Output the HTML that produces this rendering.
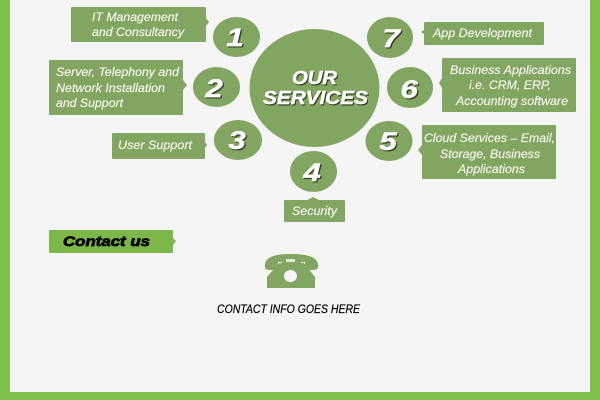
<!DOCTYPE html>
<html><head><meta charset="utf-8"><style>
html,body{margin:0;padding:0;width:600px;height:400px;overflow:hidden;background:#f5f5f5}
svg{display:block}
text{font-family:"Liberation Sans",sans-serif;font-style:italic}
.l{font-size:12px;fill:#f1f5ea;stroke:#f1f5ea;stroke-width:.2}
.n{font-size:25px;font-weight:bold;fill:#fff;text-anchor:middle;stroke:#fff;stroke-width:.4;filter:url(#sh)}
.h{font-size:18px;font-weight:bold;fill:#fff;stroke:#fff;stroke-width:.4;filter:url(#sh)}
</style></head><body>
<svg width="600" height="400" viewBox="0 0 600 400" xmlns="http://www.w3.org/2000/svg">
<defs>
<filter id="sh" x="-20%" y="-20%" width="140%" height="140%"><feDropShadow dx="1" dy="1.2" stdDeviation=".3" flood-color="#2d3a22"/></filter>
</defs>
<rect width="600" height="400" fill="#f5f5f5"/>
<path d="M0 0H10V392H590V0H600V400H0Z" fill="#7fc04a"/>
<g fill="#82a661">
<ellipse cx="314.5" cy="88" rx="65" ry="59"/>
<ellipse cx="236.5" cy="37" rx="23.5" ry="20"/>
<ellipse cx="216.5" cy="87" rx="23.5" ry="20"/>
<ellipse cx="238" cy="140" rx="24" ry="20"/>
<ellipse cx="313.5" cy="171.5" rx="23.5" ry="20.5"/>
<ellipse cx="389" cy="141" rx="23.5" ry="20"/>
<ellipse cx="410" cy="87.5" rx="23" ry="20.5"/>
<ellipse cx="390" cy="37.5" rx="23" ry="20.5"/>
<path d="M72 7H205Q206 7 206 8V18L209 22L206 26V41Q206 42 205 42H72Q71 42 71 41V8Q71 7 72 7Z"/>
<path d="M50 60H182Q183 60 183 61V80L187 85L183 90V114Q183 115 182 115H50Q49 115 49 114V61Q49 60 50 60Z"/>
<path d="M113 133H204Q205 133 205 134V142L207 145L205 148V158Q205 159 204 159H113Q112 159 112 158V134Q112 133 113 133Z"/>
<path d="M425 22H543Q544 22 544 23V44Q544 45 543 45H425Q424 45 424 44V34L421 32L424 30V23Q424 22 425 22Z"/>
<path d="M443 58H575Q576 58 576 59V111Q576 112 575 112H443Q442 112 442 111V88L439 83L442 78V59Q442 58 443 58Z"/>
<path d="M423 125H555Q556 125 556 126V178Q556 179 555 179H423Q422 179 422 178V155L418 150L422 145V126Q422 125 423 125Z"/>
<path d="M285 200H307L313 197L319 200H344Q345 200 345 201V221Q345 222 344 222H285Q284 222 284 221V201Q284 200 285 200Z"/>
<path fill="#7db649" d="M50 230H172Q173 230 173 231V238L176 241L173 245V252Q173 253 172 253H50Q49 253 49 252V231Q49 230 50 230Z"/>
</g>
<text class="l" x="92" y="21" textLength="86" lengthAdjust="spacingAndGlyphs">IT Management</text>
<text class="l" x="92" y="36" textLength="92" lengthAdjust="spacingAndGlyphs">and Consultancy</text>
<text class="l" x="56" y="76" textLength="123" lengthAdjust="spacingAndGlyphs">Server, Telephony and</text>
<text class="l" x="56" y="92" textLength="109" lengthAdjust="spacingAndGlyphs">Network Installation</text>
<text class="l" x="56" y="107" textLength="67" lengthAdjust="spacingAndGlyphs">and Support</text>
<text class="l" x="118" y="149" textLength="74" lengthAdjust="spacingAndGlyphs">User Support</text>
<text class="l" x="433" y="37" textLength="99" lengthAdjust="spacingAndGlyphs">App Development</text>
<text class="l" x="450" y="74" textLength="121" lengthAdjust="spacingAndGlyphs">Business Applications</text>
<text class="l" x="469" y="89" textLength="82" lengthAdjust="spacingAndGlyphs">i.e. CRM, ERP,</text>
<text class="l" x="456" y="105" textLength="112" lengthAdjust="spacingAndGlyphs">Accounting software</text>
<text class="l" x="424" y="142" textLength="131" lengthAdjust="spacingAndGlyphs">Cloud Services – Email,</text>
<text class="l" x="440" y="158" textLength="100" lengthAdjust="spacingAndGlyphs">Storage, Business</text>
<text class="l" x="458" y="173" textLength="67" lengthAdjust="spacingAndGlyphs">Applications</text>
<text class="l" x="292" y="215" textLength="45" lengthAdjust="spacingAndGlyphs">Security</text>
<text class="h" x="292" y="84" textLength="45" lengthAdjust="spacingAndGlyphs">OUR</text>
<text class="h" x="263" y="104" textLength="105" lengthAdjust="spacingAndGlyphs">SERVICES</text>
<text class="n" transform="translate(235,46) scale(1.25,1)">1</text>
<text class="n" transform="translate(214,97) scale(1.25,1)">2</text>
<text class="n" transform="translate(237,149) scale(1.25,1)">3</text>
<text class="n" transform="translate(312,181) scale(1.25,1)">4</text>
<text class="n" transform="translate(388,150) scale(1.25,1)">5</text>
<text class="n" transform="translate(409,98) scale(1.25,1)">6</text>
<text class="n" transform="translate(391,47) scale(1.25,1)">7</text>
<text x="63" y="246" textLength="87" lengthAdjust="spacingAndGlyphs" font-size="13.5" font-weight="bold" fill="#000" stroke="#000" stroke-width=".7">Contact us</text>
<g fill="#82a661">
<path d="M265 267C264 258 272 254 291 254C310 254 319 258 318 267C318 269 316 270 311 270C306 270 305 268 305 262H278C278 268 277 270 272 270C267 270 265 269 265 267Z"/>
<path d="M282 258H301V263H304L315 277V288H267V277L279 263H282Z"/>
</g>
<rect x="286" y="259" width="9" height="3" fill="#f5f5f5" opacity=".85"/>
<ellipse cx="290.5" cy="276" rx="6.5" ry="6" fill="#f6f6f6"/>
<text x="217" y="313" textLength="143" lengthAdjust="spacingAndGlyphs" font-size="11.5" fill="#000" stroke="#000" stroke-width=".2">CONTACT INFO GOES HERE</text>
</svg>
</body></html>
